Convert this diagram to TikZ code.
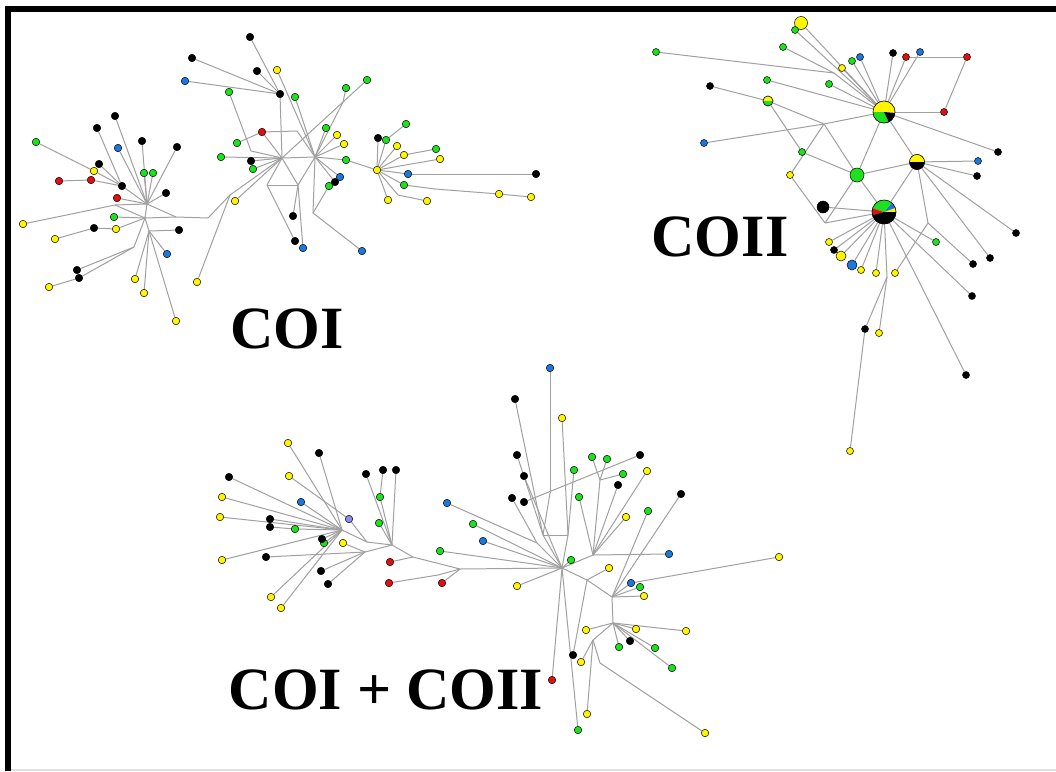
\documentclass[tikz,border=0pt]{standalone}
\usepackage{fontspec}
\setmainfont{Liberation Serif}
\usepackage{tikz}
\usetikzlibrary{backgrounds}

\definecolor{hapyellow}{HTML}{FFF500}
\definecolor{hapgreen}{HTML}{1EE01E}
\definecolor{hapblue}{HTML}{1E78DC}
\definecolor{hapred}{HTML}{E01010}
\definecolor{hapviolet}{HTML}{8C8CE6}
\definecolor{linkgray}{HTML}{A0A0A0}

\begin{document}
\begin{tikzpicture}[x=1pt, y=-1pt]
\tikzstyle{hap} = [circle, draw=black, line width=0.5pt, inner sep=0pt, minimum size=7.5pt]
\tikzstyle{hy} = [hap, fill=hapyellow]
\tikzstyle{hg} = [hap, fill=hapgreen]
\tikzstyle{hk} = [hap, fill=black]
\tikzstyle{hb} = [hap, fill=hapblue]
\tikzstyle{hr} = [hap, fill=hapred]
\tikzstyle{hv} = [hap, fill=hapviolet]
\tikzstyle{link} = [draw=linkgray, line width=1pt]
\tikzstyle{title} = [font=\bfseries\fontsize{60}{60}\selectfont, anchor=base, inner sep=0pt]

\useasboundingbox (0,0) rectangle (1056,771);

% frame
\draw[line width=6pt] (8,771) -- (8,8.5) -- (1056,8.5);
\draw[black!12, line width=1.5pt] (11,770) -- (1056,770);

% ---------- COI ----------
\foreach \n/\x/\y in {a8/94/171, a16/23/224, a18/55/239, a20/116/229, a25/49/287, a26/135/279, a27/144/293,
  a28/176/321, a29/197/282, a30/235/201, a34/277/70, a47/337/135, a48/344/144, a60/397/146, a61/404/155,
  a63/440/159, a64/377/170, a68/388/200, a69/427/201, a70/499/194, a71/531/197}
  \node[hy] (\n) at (\x,\y) {};
\foreach \n/\x/\y in {a1/36/142, a11/144/173, a12/153/173, a17/114/217, a36/229/92, a38/295/97, a39/346/88,
  a40/367/80, a42/237/143, a43/221/157, a45/253/169, a46/326/128, a49/346/160, a52/329/186, a58/386/140,
  a59/406/124, a62/436/149, a67/404/185}
  \node[hg] (\n) at (\x,\y) {};
\foreach \n/\x/\y in {a2/115/116, a3/97/128, a4/142/141, a6/177/147, a7/99/164, a13/122/186, a14/166/193,
  a19/94/228, a21/179/230, a23/77/270, a24/79/278, a31/250/37, a32/192/58, a33/257/71, a37/280/94,
  a44/251/161, a51/335/182, a53/293/216, a54/295/241, a57/378/138, a66/536/174}
  \node[hk] (\n) at (\x,\y) {};
\foreach \n/\x/\y in {a5/118/148, a22/167/254, a35/185/81, a50/340/177, a55/303/248, a56/362/251, a65/408/174}
  \node[hb] (\n) at (\x,\y) {};
\foreach \n/\x/\y in {a9/59/181, a10/91/180, a15/117/198, a41/262/132}
  \node[hr] (\n) at (\x,\y) {};
\foreach \n/\x/\y in {ja1/147/204, ja2/145/218, ja3/149/231, ja4/176/217, ja5/115/205, ja6/134/247,
  ja7/208/218, ja8/230/195, ja9/282/158, ja10/315/157, ja11/297/131, ja12/267/185, ja13/298/185,
  ja14/313/213, ja15/343/102, ja16/251/151, ja17/398/195, ja18/435/189}
  \coordinate (\n) at (\x,\y);

% ---------- COII ----------
\foreach \n/\x/\y in {b5/842/68, b21/790/175, b31/829/242, b35/861/270, b36/876/273, b37/895/273,
  b41/879/333, b43/850/451}
  \node[hy, minimum size=7pt] (\n) at (\x,\y) {};
\node[hy, minimum size=13pt] (b1) at (801,23) {};
\node[hy, minimum size=10pt] (b33) at (841,256) {};
\foreach \n/\x/\y in {b2/795/30, b3/656/52, b4/783/47, b6/852/61, b13/767/80, b14/829/84, b20/802/152, b28/936/242}
  \node[hg, minimum size=7pt] (\n) at (\x,\y) {};
\node[hg, minimum size=14pt] (b22) at (857,175) {};
\foreach \n/\x/\y in {b8/893/53, b12/710/86, b19/998/152, b25/977/176, b29/1016/233, b30/990/258,
  b32/834/250, b38/973/264, b39/972/296, b40/865/329, b42/966/375}
  \node[hk, minimum size=7pt] (\n) at (\x,\y) {};
\node[hk, minimum size=12pt] (b26) at (823,207) {};
\foreach \n/\x/\y in {b7/860/57, b10/920/52, b18/704/143, b24/978/161}
  \node[hb, minimum size=7pt] (\n) at (\x,\y) {};
\node[hb, minimum size=10pt] (b34) at (852,265) {};
\foreach \n/\x/\y in {b9/906/57, b11/967/57, b17/944/112}
  \node[hr, minimum size=7pt] (\n) at (\x,\y) {};
\node[hap, minimum size=10pt] (b15) at (768,101) {};
\node[hap, minimum size=22pt] (b16) at (884,112) {};
\node[hap, minimum size=15pt] (b23) at (917,162) {};
\node[hap, minimum size=24pt] (b27) at (884,212) {};
\foreach \n/\x/\y in {jb1/834/73, jb2/824/124, jb3/825/223, jb4/887/277, jb5/928/223}
  \coordinate (\n) at (\x,\y);

% pie slices (y axis points down, so angles run clockwise)
\fill[hapyellow] (b15.center) -- ++(0:5) arc[start angle=0, end angle=-180, radius=5] -- cycle;
\fill[hapgreen] (b15.center) -- ++(180:5) arc[start angle=180, end angle=0, radius=5] -- cycle;
\draw[line width=0.5pt] (b15.center) circle (5);
\fill[hapyellow] (b16.center) -- ++(5:11) arc[start angle=5, end angle=-180, radius=11] -- cycle;
\fill[hapgreen] (b16.center) -- ++(180:11) arc[start angle=180, end angle=65, radius=11] -- cycle;
\fill[black] (b16.center) -- ++(65:11) arc[start angle=65, end angle=5, radius=11] -- cycle;
\draw[line width=0.5pt] (b16.center) circle (11);
\fill[hapyellow] (b23.center) -- ++(0:7.5) arc[start angle=0, end angle=-180, radius=7.5] -- cycle;
\fill[black] (b23.center) -- ++(180:7.5) arc[start angle=180, end angle=0, radius=7.5] -- cycle;
\draw[line width=0.5pt] (b23.center) circle (7.5);
\fill[hapyellow] (b27.center) -- ++(0:12) arc[start angle=0, end angle=-20, radius=12] -- cycle;
\fill[hapblue] (b27.center) -- ++(-20:12) arc[start angle=-20, end angle=-50, radius=12] -- cycle;
\fill[hapgreen] (b27.center) -- ++(-50:12) arc[start angle=-50, end angle=-162, radius=12] -- cycle;
\fill[hapred] (b27.center) -- ++(-162:12) arc[start angle=-162, end angle=-195, radius=12] -- cycle;
\fill[black] (b27.center) -- ++(165:12) arc[start angle=165, end angle=0, radius=12] -- cycle;
\draw[line width=0.5pt] (b27.center) circle (12);

% ---------- COI + COII ----------
\foreach \n/\x/\y in {c1/288/443, c3/289/476, c5/222/497, c8/220/517, c14/343/543, c15/222/560, c19/271/597,
  c20/281/608, c31/562/418, c38/647/471, c47/626/517, c52/779/557, c53/609/568, c54/517/586, c57/644/596,
  c58/586/630, c59/636/629, c60/686/631, c65/581/662, c68/587/714, c70/705/733}
  \node[hy] (\n) at (\x,\y) {};
\foreach \n/\x/\y in {c11/295/529, c13/324/543, c24/380/497, c25/379/523, c33/592/457, c34/607/459,
  c36/574/470, c37/623/474, c43/579/497, c46/473/524, c48/648/511, c51/571/560, c56/640/587, c62/619/647,
  c63/655/648, c66/672/668, c69/578/730, c71/440/551}
  \node[hg] (\n) at (\x,\y) {};
\foreach \n/\x/\y in {c2/319/453, c4/229/477, c9/270/519, c10/270/527, c12/322/539, c16/266/557, c17/321/571,
  c18/328/584, c21/366/474, c22/383/470, c23/396/470, c30/515/399, c32/517/455, c35/640/455, c39/524/476,
  c40/618/485, c41/512/498, c42/524/502, c44/681/494, c61/630/641, c64/573/655}
  \node[hk] (\n) at (\x,\y) {};
\foreach \n/\x/\y in {c6/301/502, c29/550/368, c45/447/503, c49/483/541, c50/669/554, c55/631/583}
  \node[hb] (\n) at (\x,\y) {};
\foreach \n/\x/\y in {c26/390/562, c27/389/583, c28/442/583, c67/552/680}
  \node[hr] (\n) at (\x,\y) {};
\node[hv] (c7) at (349,519) {};
\foreach \n/\x/\y in {jc1/342/530, jc2/367/542, jc3/392/545, jc4/365/552, jc5/413/557, jc6/460/569,
  jc7/438/575, jc8/562/568, jc9/587/580, jc10/613/623, jc11/543/535, jc12/568/535, jc13/550/493,
  jc14/600/480, jc15/593/555, jc16/593/640, jc17/600/663, jc18/612/597, jc19/537/543}
  \coordinate (\n) at (\x,\y);

% connectors
\begin{scope}[on background layer]
\foreach \s/\t in {ja1/a2, ja1/a4, ja1/a5, ja1/a6, ja1/a11, ja1/a12, ja1/a13, ja1/a14, ja1/a15, ja1/ja5,
  ja1/ja2, ja1/ja4, a13/a3, a13/a7, a13/a8, a13/a10, a10/a9, a8/a1, ja5/a16, ja5/ja2, ja2/a17, ja2/a20,
  ja2/ja3, ja2/ja4, ja2/ja6, a20/a19, a19/a18, ja6/a23, ja6/a24, a24/a25, ja3/a21, ja3/a22, ja3/a26,
  ja3/a27, ja3/a28, ja4/ja7, ja7/ja8, ja8/a29, ja8/ja9, a30/ja9, a37/a31, a37/a32, a37/a33, a37/a35,
  a37/ja9, ja9/ja16, ja16/a36, ja9/a41, ja9/a43, ja9/a44, ja9/a45, ja9/ja10, ja9/ja12, ja9/ja13,
  ja9/ja15, a41/a42, a41/ja11, ja11/ja10, ja10/a34, ja10/a38, ja10/a46, ja10/a47, ja10/a48, ja10/a49,
  ja10/a50, ja10/a51, ja10/ja15, ja10/ja13, ja10/ja14, ja15/a39, ja15/a40, ja12/ja13, ja12/a54,
  ja13/a53, ja13/a55, ja14/a56, ja14/a52, a49/a64, a64/a57, a64/a58, a64/a60, a64/a61, a64/a63,
  a64/a65, a64/a67, a64/a68, a64/ja17, ja17/a69, a58/a59, a61/a62, a65/a66, a67/ja18, ja18/a70, a70/a71}
  \draw[link] (\s) -- (\t);
\foreach \s/\t in {b1/b16, b2/b16, b4/jb1, b3/jb1, jb1/b16, b5/b16, b6/b16, b7/b16, b8/b16, b9/b16,
  b10/b16, b9/b11, b11/b17, b17/b16, b13/b16, b14/b16, b12/b15, b15/jb2, b18/jb2, jb2/b16, jb2/b21,
  jb2/b22, b15/b20, b20/b22, b16/b22, b16/b19, b16/b23, b22/b23, b22/b27, b23/b27, b23/b24, b23/b25,
  b23/b29, b23/b30, b23/jb5, jb5/b37, jb5/b38, b21/jb3, jb3/b22, jb3/b27, b26/b27, b27/b28, b27/b31,
  b27/b32, b27/b33, b27/b34, b27/b35, b27/b36, b27/b39, b27/b42, b27/jb4, jb4/b40, jb4/b41, b40/b43}
  \draw[link] (\s) -- (\t);
\foreach \s/\t in {c1/jc1, c2/jc1, c3/c7, c7/jc2, c4/jc1, c5/jc1, c6/jc1, c8/jc1, c9/jc1, c10/c11,
  c11/jc1, c12/jc1, c13/jc1, c15/jc1, c19/jc1, c20/jc1, c14/jc4, jc1/jc2, jc2/jc3, c21/jc3, c22/c24,
  c24/jc3, c23/jc3, c25/jc3, c16/jc4, c17/jc4, c18/jc4, jc4/jc3, jc3/jc5, jc5/c26, jc5/jc6, c27/jc7,
  jc7/jc6, c28/jc6, jc6/jc8, c71/jc8, c46/jc8, c49/jc8, c45/jc19, jc19/jc8, c54/jc8, jc11/jc12,
  jc11/jc8, jc12/jc8, c51/jc8, c29/jc13, jc13/jc11, c30/jc11, c31/jc12, c32/jc11, c39/jc8, c41/jc19,
  c42/c35, c36/jc12, c33/jc14, c34/jc14, jc14/jc15, c37/jc14, c40/jc15, c47/jc15, c38/jc15, c43/jc15,
  jc15/jc8, jc15/c50, c48/jc18, c44/jc18, jc8/jc9, jc9/c53, jc9/jc18, jc18/c55, jc18/jc10, c52/c55,
  c56/jc18, c57/jc18, jc10/c58, jc10/c59, jc10/c60, jc10/c61, jc10/c62, jc10/c63, jc10/c66, jc8/c67,
  jc8/c69, jc9/c64, c65/jc16, jc16/jc10, jc16/jc17, jc17/c70, jc16/c68}
  \draw[link] (\s) -- (\t);
\end{scope}

% titles
\node[title] (tcoi) at (287,348) {COI};
\node[title] (tcoii) at (720,256) {COII};
\node[title] (tboth) at (386,709) {COI + COII};
\end{tikzpicture}
\end{document}
